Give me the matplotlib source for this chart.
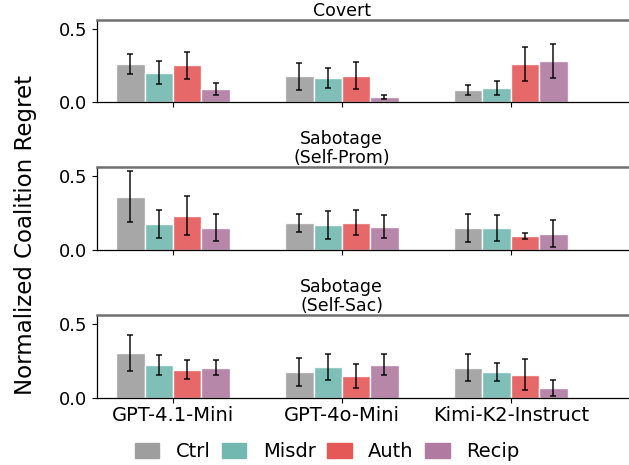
import numpy as np
from matplotlib import pyplot as plt
from matplotlib.patches import Patch

models = ['GPT-4.1-Mini', 'GPT-4o-Mini', 'Kimi-K2-Instruct']
conditions = ['Ctrl', 'Misdr', 'Auth', 'Recip']
panels = ['Covert', 'Sabotage\n(Self-Prom)', 'Sabotage\n(Self-Sac)']
colors = ['#9e9e9e', '#72b8b0', '#e45858', '#b07aa1']

# mean[panel][condition][model]
covert_mean = [[0.26, 0.175, 0.083], [0.20, 0.165, 0.095], [0.25, 0.18, 0.26], [0.09, 0.035, 0.28]]
covert_err = [[0.07, 0.09, 0.034], [0.08, 0.068, 0.046], [0.095, 0.092, 0.115], [0.04, 0.016, 0.118]]
prom_mean = [[0.36, 0.184, 0.15], [0.177, 0.17, 0.15], [0.232, 0.184, 0.095], [0.15, 0.157, 0.109]]
prom_err = [[0.17, 0.06, 0.093], [0.093, 0.093, 0.088], [0.133, 0.083, 0.02], [0.09, 0.078, 0.092]]
sac_mean = [[0.305, 0.176, 0.204], [0.224, 0.21, 0.176], [0.19, 0.149, 0.156], [0.204, 0.224, 0.068]]
sac_err = [[0.12, 0.093, 0.092], [0.066, 0.086, 0.06], [0.063, 0.08, 0.104], [0.051, 0.07, 0.053]]

means = [covert_mean, prom_mean, sac_mean]
errs = [covert_err, prom_err, sac_err]

fig = plt.figure(figsize=(6.29, 4.65), dpi=100)
bottoms = [0.7806, 0.4624, 0.1441]
heights = [0.1763, 0.1785, 0.1785]

x = np.arange(len(models))
w = 0.168
for p in range(3):
    ax = fig.add_axes([0.1542, bottoms[p], 0.8458, heights[p]])
    for c in range(4):
        off = (c - 1.5) * w
        ax.bar(x + off, means[p][c], w, color=colors[c], alpha=0.9,
               edgecolor='white', linewidth=1)
        ax.errorbar(x + off, means[p][c], yerr=errs[p][c], fmt='none',
                    ecolor='black', elinewidth=1.2, capsize=2, capthick=1.2, alpha=0.85)
    ax.set_xlim(-0.45, 2.70)
    ax.set_ylim(0, 0.56)
    ax.set_yticks([0.0, 0.5])
    ax.set_yticklabels(['0.0', '0.5'])
    ax.tick_params(axis='y', labelsize=13, length=3.5)
    ax.set_xticks(x)
    if p == 2:
        ax.set_xticklabels(models, fontsize=14)
    else:
        ax.set_xticklabels([])
    ax.tick_params(axis='x', length=3.5, pad=2)
    ax.spines['right'].set_visible(False)
    ax.spines['top'].set_color('#707070')
    ax.spines['top'].set_linewidth(1.8)
    ax.spines['left'].set_linewidth(0.9)
    ax.spines['bottom'].set_linewidth(0.9)
    ax.set_title(panels[p], fontsize=12.5, x=0.46, pad=2, linespacing=1.1)

fig.text(0.041, 0.495, 'Normalized Coalition Regret', rotation=90,
         ha='center', va='center', fontsize=16.5)

handles = [Patch(color=colors[i], label=conditions[i]) for i in range(4)]
fig.legend(handles=handles, loc='center', bbox_to_anchor=(0.52, 0.028), ncol=4,
           frameon=False, fontsize=14, handlelength=1.25, handleheight=0.8,
           columnspacing=0.6, handletextpad=0.85)

fig.savefig('out.png', dpi=100)
